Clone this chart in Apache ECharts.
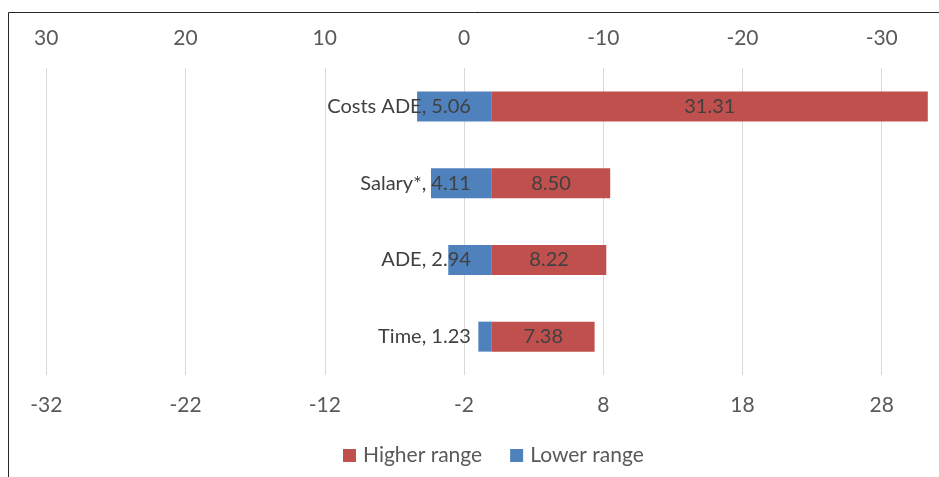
<!DOCTYPE html>
<html>
<head>
<meta charset="utf-8">
<script src="https://cdn.jsdelivr.net/npm/echarts@6/dist/echarts.min.js"></script>
<style>
html,body{margin:0;padding:0;background:#fff;}
#c{width:939px;height:477px;}
</style>
</head>
<body>
<div id="c"></div>
<script>
var categories = ['Costs ADE', 'Salary*', 'ADE', 'Time'];
var higherRange = [31.31, 8.50, 8.22, 7.38];
var lowerRange = [-5.37, -4.37, -3.13, -0.97];
var lowerLabels = ['5.06', '4.11', '2.94', '1.23'];
var bottomTicks = [-32, -22, -12, -2, 8, 18, 28];
var topTickLabels = ['30', '20', '10', '0', '-10', '-20', '-30'];

var FONT = 'Lato';
var FS = 21;
var chart = echarts.init(document.getElementById('c'), null, {renderer: 'canvas'});
var axisCommon = {
  type: 'value', min: -32, max: 32, interval: 10,
  axisLine: {show: false}, axisTick: {show: false}
};
chart.setOption({
  animation: false,
  textStyle: {fontFamily: FONT},
  grid: {left: 46.3, right: 1.6, top: 68, bottom: 102, containLabel: false},
  graphic: [{
    type: 'polyline', silent: true,
    shape: {points: [[8.5, 480], [8.5, 12.5], [945, 12.5]]},
    style: {stroke: '#262626', lineWidth: 1, fill: null}
  }],
  legend: {
    top: 445, left: 343, padding: 0,
    itemWidth: 13, itemHeight: 13, itemGap: 28,
    icon: 'rect',
    textStyle: {fontFamily: FONT, fontSize: FS, color: '#595959', padding: [0, 0, 0, 2]},
    data: ['Higher range', 'Lower range']
  },
  xAxis: [
    Object.assign({}, axisCommon, {
      position: 'bottom',
      splitLine: {show: true, showMaxLine: false, lineStyle: {color: '#d9d9d9', width: 1}},
      axisLabel: {
        showMaxLabel: false, margin: 20,
        fontFamily: FONT, fontSize: FS, color: '#595959',
        formatter: function (v) { return bottomTicks.indexOf(v) >= 0 ? String(v) : ''; }
      }
    }),
    Object.assign({}, axisCommon, {
      position: 'top',
      splitLine: {show: false},
      axisLabel: {
        showMaxLabel: false, margin: 19,
        fontFamily: FONT, fontSize: FS, color: '#595959',
        formatter: function (v) { var i = bottomTicks.indexOf(v); return i >= 0 ? topTickLabels[i] : ''; }
      }
    })
  ],
  yAxis: {
    type: 'category', data: categories, inverse: true,
    axisLine: {show: false}, axisTick: {show: false}, axisLabel: {show: false},
    splitLine: {show: false}
  },
  series: [
    {
      name: 'Higher range', type: 'bar', xAxisIndex: 0,
      data: higherRange, barWidth: 30, barGap: '-100%',
      itemStyle: {color: '#C0504D'},
      label: {
        show: true, position: 'inside', fontFamily: FONT, fontSize: 20, color: '#404040',
        formatter: function (p) { return p.value.toFixed(2); }
      }
    },
    {
      name: 'Lower range', type: 'bar', xAxisIndex: 0,
      data: lowerRange, barWidth: 30, barGap: '-100%',
      itemStyle: {color: '#4F81BD'},
      label: {
        show: true, position: 'insideRight', distance: 21, fontFamily: FONT, fontSize: 20, color: '#404040',
        formatter: function (p) { return categories[p.dataIndex] + ', ' + lowerLabels[p.dataIndex]; }
      }
    }
  ]
});
</script>
</body>
</html>
